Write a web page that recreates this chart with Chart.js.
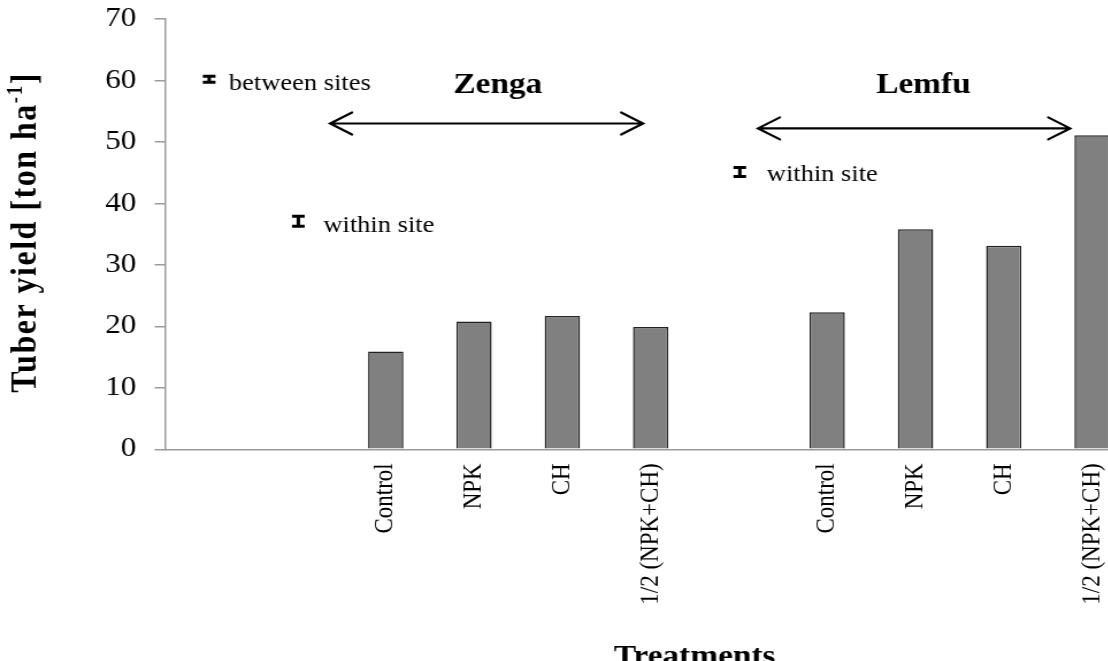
<!DOCTYPE html>
<html><head><meta charset="utf-8">
<script src="https://cdn.jsdelivr.net/npm/chart.js@4.4.0/dist/chart.umd.min.js"></script>
<style>
html,body{margin:0;padding:0;background:#fff;overflow:hidden;width:1108px;height:661px;}
#wrap{width:992px;height:661px;transform:scaleX(1.15);transform-origin:0 0;}
canvas{display:block;}
</style></head><body>
<div id="wrap"><canvas id="c" width="992" height="661" style="width:992px;height:661px"></canvas></div>
<script>
// ---- data ----
const treatments = ['Control', 'NPK', 'CH', '1/2 (NPK+CH)'];
const zengaYield = [15.9, 20.8, 21.7, 19.9];
const lemfuYield = [22.3, 35.8, 33.1, 51.1];
const yTicks = [0, 10, 20, 30, 40, 50, 60, 70];
const siteNames = ['Zenga', 'Lemfu'];
const categories = ['', ''].concat(treatments, [''], treatments);
const values = [null, null].concat(zengaYield, [null], lemfuYield);

const SERIF = '"Liberation Serif", "Times New Roman", serif';

function arrow(ctx, x1, x2, y) {
  const hl = 19, hw = 11;
  ctx.save();
  ctx.strokeStyle = '#000';
  ctx.lineWidth = 2.2;
  ctx.lineCap = 'round';
  ctx.beginPath();
  ctx.moveTo(x1, y); ctx.lineTo(x2, y);
  ctx.moveTo(x1 + hl, y - hw); ctx.lineTo(x1, y); ctx.lineTo(x1 + hl, y + hw);
  ctx.moveTo(x2 - hl, y - hw); ctx.lineTo(x2, y); ctx.lineTo(x2 - hl, y + hw);
  ctx.stroke();
  ctx.restore();
}
function errSym(ctx, x, y, h) {
  const w = 11;
  ctx.save();
  ctx.strokeStyle = '#000';
  ctx.lineWidth = 3;
  ctx.beginPath();
  ctx.moveTo(x, y - h / 2); ctx.lineTo(x, y + h / 2);
  ctx.moveTo(x - w / 2, y - h / 2 + 1.5); ctx.lineTo(x + w / 2, y - h / 2 + 1.5);
  ctx.moveTo(x - w / 2, y + h / 2 - 1.5); ctx.lineTo(x + w / 2, y + h / 2 - 1.5);
  ctx.stroke();
  ctx.restore();
}

const annot = {
  id: 'annot',
  afterDraw(chart) {
    const ctx = chart.ctx;
    const ca = chart.chartArea;
    const band = (ca.right - ca.left) / categories.length;
    const X = i => ca.left + (i + 0.5) * band;
    const Y = v => chart.scales.y.getPixelForValue(v);
    ctx.save();
    ctx.fillStyle = '#000';
    // site labels
    ctx.font = 'bold 29px ' + SERIF;
    ctx.textAlign = 'center';
    ctx.textBaseline = 'alphabetic';
    ctx.fillText(siteNames[0], X(3.27), Y(58.0));
    ctx.fillText(siteNames[1], X(8.09), Y(57.9));
    // arrows
    arrow(ctx, X(1.37), X(4.914), Y(53.0));
    arrow(ctx, X(6.217), X(9.751), Y(52.2));
    // error bar legends
    errSym(ctx, X(0.0), Y(60.2), 9);
    errSym(ctx, X(1.01), Y(37.1), 13);
    errSym(ctx, X(6.01), Y(45.1), 12);
    ctx.font = '23px ' + SERIF;
    ctx.textAlign = 'left';
    ctx.fillText('between sites', X(0.224), Y(58.5));
    ctx.fillText('within site', X(1.293), Y(35.4));
    ctx.fillText('within site', X(6.316), Y(43.7));
    // x-axis title
    ctx.font = 'bold 29px ' + SERIF;
    ctx.textAlign = 'center';
    ctx.fillText('Treatments', 604, 665);
    // y-axis title with superscript
    ctx.translate(31.3, 232.5);
    ctx.rotate(-Math.PI / 2);
    ctx.letterSpacing = '1.5px';
    const mainF = 'bold 32px ' + SERIF, supF = 'bold 19px ' + SERIF;
    const t1 = 'Tuber yield [ton ha', t2 = '-1', t3 = ']';
    ctx.font = mainF; const w1 = ctx.measureText(t1).width, w3 = ctx.measureText(t3).width;
    ctx.font = supF; const w2 = ctx.measureText(t2).width;
    let x0 = -(w1 + w2 + w3) / 2;
    ctx.textAlign = 'left';
    ctx.font = mainF; ctx.fillText(t1, x0, 0);
    ctx.font = supF; ctx.fillText(t2, x0 + w1, -12);
    ctx.font = mainF; ctx.fillText(t3, x0 + w1 + w2, 0);
    ctx.restore();
  }
};

new Chart(document.getElementById('c'), {
  type: 'bar',
  data: {
    labels: categories,
    datasets: [{
      data: values,
      backgroundColor: '#808080',
      borderColor: '#222222',
      borderWidth: 1.5,
      categoryPercentage: 1,
      barPercentage: 0.4
    }]
  },
  options: {
    responsive: false,
    animation: false,
    devicePixelRatio: 1,
    layout: { padding: { top: 19, right: 4, left: 0, bottom: 0 } },
    plugins: { legend: { display: false }, tooltip: { enabled: false }, title: { display: false } },
    scales: {
      x: {
        afterFit: s => { s.height = 661 - 449.3; s.paddingLeft = 0; s.paddingRight = 0; },
        grid: { display: true, drawOnChartArea: false, drawTicks: false },
        border: { display: true, color: '#9a9a9a', width: 1.5 },
        ticks: {
          autoSkip: false, minRotation: 90, maxRotation: 90, padding: 14,
          color: '#000', font: { family: SERIF, size: 23 }
        }
      },
      y: {
        min: 0, max: 70,
        afterFit: s => { s.width = 143.5; s.paddingTop = 0; s.paddingBottom = 0; },
        afterBuildTicks: s => { s.ticks = yTicks.map(v => ({ value: v })); },
        grid: { drawOnChartArea: false, drawTicks: true, tickLength: 9, color: '#9a9a9a', lineWidth: 1.5 },
        border: { display: true, color: '#9a9a9a', width: 1.5 },
        ticks: { padding: 16, color: '#000', font: { family: SERIF, size: 27 } }
      }
    }
  },
  plugins: [annot]
});
</script>
</body></html>
